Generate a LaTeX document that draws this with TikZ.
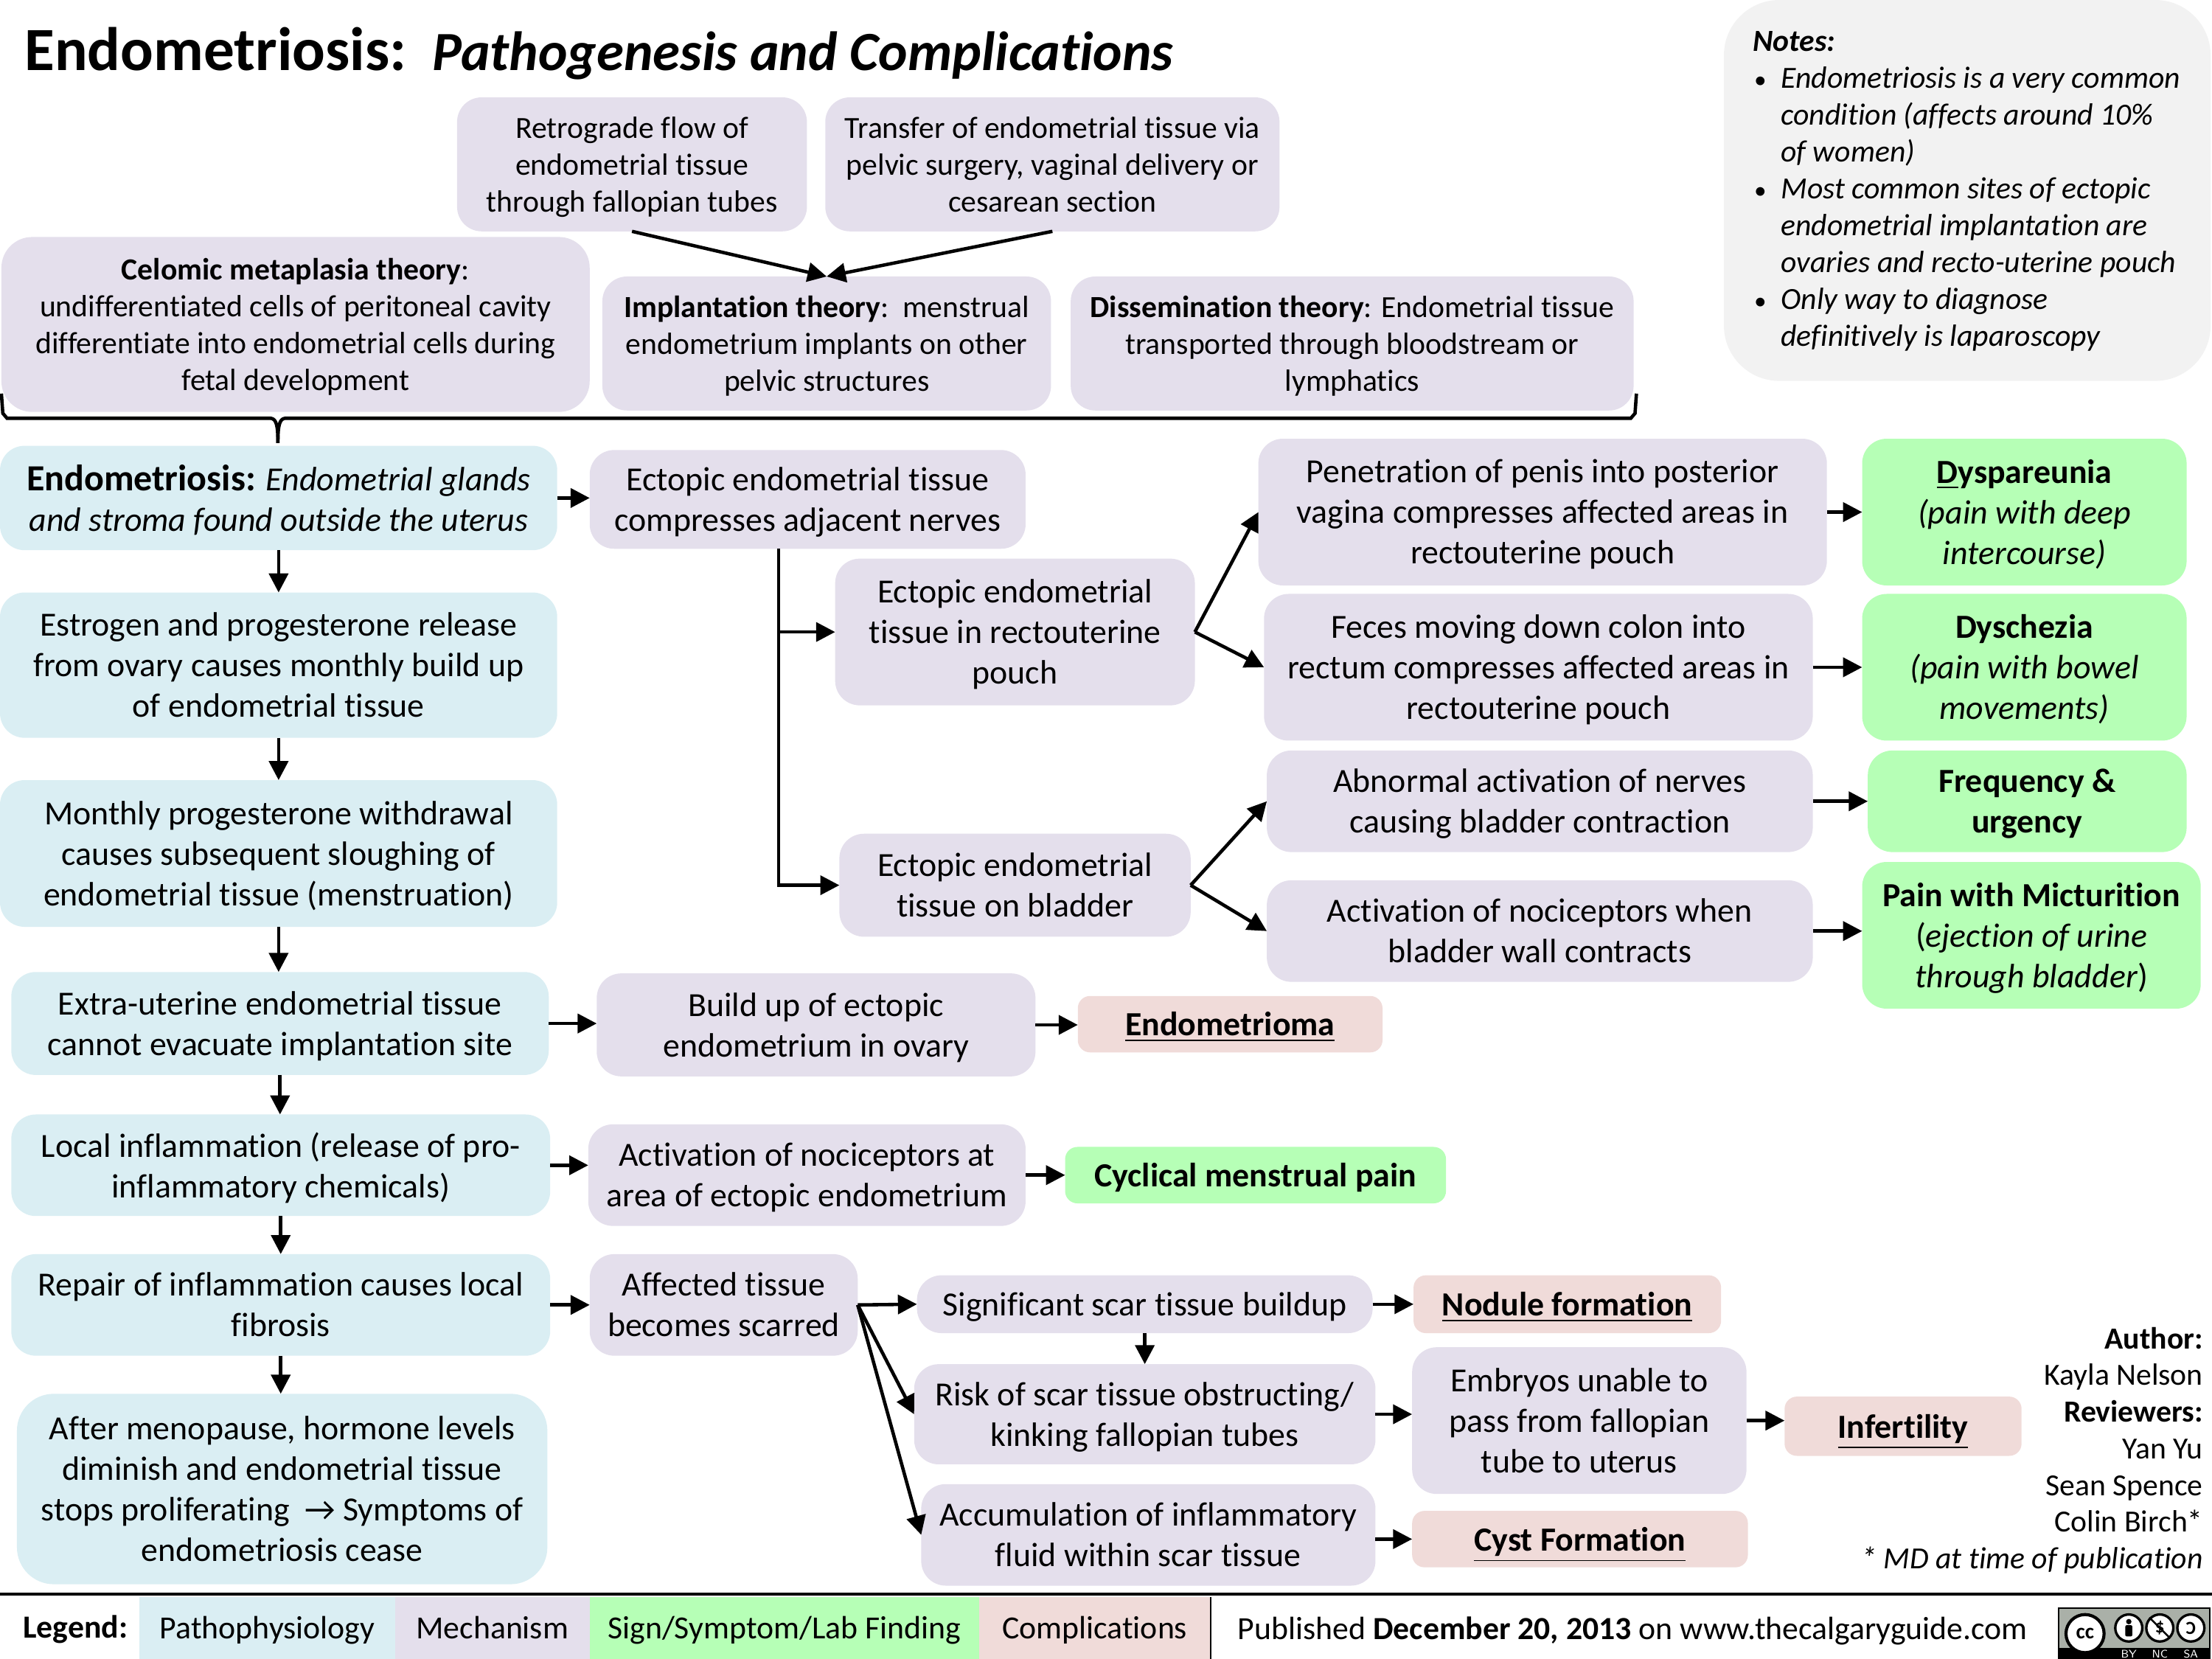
\documentclass[tikz,border=0pt]{standalone}
\usepackage{fontspec}
\setmainfont{Carlito}[Ligatures = NoCommon]
\usetikzlibrary{positioning, calc, shapes.geometric, arrows.meta}
\definecolor{mechcol}{HTML}{E4DFEC}
\definecolor{pathocol}{HTML}{DAEEF3}
\definecolor{signcol}{HTML}{B6FFB6}
\definecolor{compcol}{HTML}{F0DBD9}
\definecolor{notecol}{HTML}{F2F2F2}
\definecolor{badgecol}{HTML}{AAB0A8}
\tikzstyle{Arrow} = [
%Create custom arrow style:
line width = 1.1pt,
-{Triangle[length = 6.2pt, width = 6.2pt]}
]
\tikzset{
size/.style 2 args = {minimum width = #1*0.45918pt, minimum height = #2*0.45918pt},
box/.style = {rectangle, rounded corners = 8pt, align = center, inner sep = 0pt, outer sep = 0pt, font = \fontsize{11}{13.2}\selectfont,
execute at begin node = {\rule{0pt}{0.88em}}, execute at end node = {\rule[-0.185em]{0pt}{0pt}}},
multi/.style = {text height = \ht\pgfnodeparttextbox+1.84pt},
small/.style = {font = \fontsize{10}{12}\selectfont},
mech/.style = {box, multi, fill = mechcol},
patho/.style = {box, multi, fill = pathocol},
sign/.style = {box, multi, fill = signcol},
comp/.style = {box, text depth = 2.04pt, fill = compcol},
legendbox/.style = {rectangle, inner sep = 0pt, outer sep = 0pt, text height = 8pt, text depth = 1pt, font = \fontsize{10.5}{13.2}\selectfont},
credit/.style = {anchor = base east, inner sep = 0pt, font = \fontsize{10}{12}\selectfont},
badgering/.style = {circle, draw = black, fill = white, line width = 0.8pt, inner sep = 0pt, minimum size = 4.4*2pt}
}
\begin{document}
\begin{tikzpicture}[x = 0.45918pt, y = -0.45918pt]
\useasboundingbox (0,0) rectangle (1568,1176);

% title
\node[anchor = base west, inner sep = 0pt, font = \fontsize{20}{24}\selectfont\bfseries] (title) at (17,50) {Endometriosis:};
\node[anchor = base west, inner sep = 0pt, font = \fontsize{18}{22}\selectfont\bfseries\itshape] (subtitle) at (306,50) {Pathogenesis and Complications};

% notes
\node[box, fill = notecol, rounded corners = 18pt, size = {345}{270}] (notes) at (1394.5,135) {};
\node[anchor = north west, inner sep = 0pt, align = left, font = \fontsize{10}{12}\selectfont\itshape] (notetext) at (1242,22) {\textbf{Notes:}\\
\makebox[9.2pt][l]{\hspace*{0.5pt}\upshape\fontsize{8}{8}\selectfont•}Endometriosis is a very common\\
\hspace*{9.2pt}condition (affects around 10\%\\
\hspace*{9.2pt}of women)\\
\makebox[9.2pt][l]{\hspace*{0.5pt}\upshape\fontsize{8}{8}\selectfont•}Most common sites of ectopic\\
\hspace*{9.2pt}endometrial implantation are\\
\hspace*{9.2pt}ovaries and recto-uterine pouch\\
\makebox[9.2pt][l]{\hspace*{0.5pt}\upshape\fontsize{8}{8}\selectfont•}Only way to diagnose\\
\hspace*{9.2pt}definitively is laparoscopy};

% theories
\node[mech, small, size = {248}{95}] (retro) at (448,116.5) {Retrograde flow of\\endometrial tissue\\through fallopian tubes};
\node[mech, small, size = {322}{95}] (transfer) at (746,116.5) {Transfer of endometrial tissue via\\pelvic surgery, vaginal delivery or\\cesarean section};
\node[mech, small, rounded corners = 10pt, size = {417}{124}] (celomic) at (209.5,230) {\textbf{Celomic metaplasia theory}:\\undifferentiated cells of peritoneal cavity\\differentiate into endometrial cells during\\fetal development};
\node[mech, small, size = {318}{95}] (implant) at (586,243.5) {\textbf{Implantation theory}:\ \ menstrual\\endometrium implants on other\\pelvic structures};
\node[mech, small, size = {399}{95}] (dissem) at (958.5,243.5) {\textbf{Dissemination theory}: Endometrial tissue\\transported through bloodstream or\\lymphatics};

\draw[Arrow] (retro.south) -- (implant.north);
\draw[Arrow] (transfer.south) -- (implant.north);

% brace
\coordinate (braceL) at (1,279);
\coordinate (braceR) at (1160,279);
\coordinate (braceT) at (197,314);
\draw[line width = 1.1pt] (braceL) -- (2,293) -- (5,296.5) -- (192,296.5) .. controls (196,297) and (197,302) .. (braceT);
\draw[line width = 1.1pt] (braceR) -- (1159,293) -- (1156,296.5) -- (202,296.5) .. controls (198,297) and (197,302) .. (braceT);

% left column
\node[patho, size = {395}{74}] (endo) at (197.5,353) {{\fontsize{12}{13.2}\selectfont\textbf{Endometriosis:}} \textit{Endometrial glands}\\\textit{and stroma found outside the uterus}};
\node[patho, size = {395}{103}] (estrogen) at (197.5,471.5) {Estrogen and progesterone release\\from ovary causes monthly build up\\of endometrial tissue};
\node[patho, size = {395}{104}] (monthly) at (197.5,605) {Monthly progesterone withdrawal\\causes subsequent sloughing of\\endometrial tissue (menstruation)};
\node[patho, size = {381}{73}] (extra) at (198.5,725.5) {Extra-uterine endometrial tissue\\cannot evacuate implantation site};
\node[patho, size = {382}{72}] (local) at (199,826) {Local inflammation (release of pro-\\inflammatory chemicals)};
\node[patho, size = {382}{72}] (repair) at (199,925) {Repair of inflammation causes local\\fibrosis};
\node[patho, rounded corners = 12pt, size = {376}{135}] (after) at (200,1055.5) {After menopause, hormone levels\\diminish and endometrial tissue\\stops proliferating\ \ →\ Symptoms of\\endometriosis cease};

\draw[Arrow] (endo.south) -- (estrogen.north);
\draw[Arrow] (estrogen.south) -- (monthly.north);
\draw[Arrow] (monthly.south) -- (monthly.south |- extra.north);
\draw[Arrow] (extra.south) -- (extra.south |- local.north);
\draw[Arrow] (local.south) -- (repair.north);
\draw[Arrow] (repair.south) -- (repair.south |- after.north);

% mechanisms
\node[mech, size = {309}{70}] (ectopic) at (572.5,354) {Ectopic endometrial tissue\\compresses adjacent nerves};
\node[mech, size = {255}{104}] (rectout) at (719.5,448) {Ectopic endometrial\\tissue in rectouterine\\pouch};
\node[mech, size = {249}{73}] (bladder) at (719.5,627.5) {Ectopic endometrial\\tissue on bladder};
\node[mech, size = {403}{104}] (penet) at (1093.5,363) {Penetration of penis into posterior\\vagina compresses affected areas in\\rectouterine pouch};
\node[mech, size = {389}{104}] (feces) at (1090.5,473) {Feces moving down colon into\\rectum compresses affected areas in\\rectouterine pouch};
\node[mech, size = {387}{72}] (abnormal) at (1091.5,568) {Abnormal activation of nerves\\causing bladder contraction};
\node[mech, size = {387}{72}] (nocic) at (1091.5,660) {Activation of nociceptors when\\bladder wall contracts};
\node[mech, size = {311}{73}] (buildup) at (578.5,726.5) {Build up of ectopic\\endometrium in ovary};
\node[mech, size = {310}{72}] (activ) at (572,833) {Activation of nociceptors at\\area of ectopic endometrium};
\node[mech, size = {190}{72}] (scar) at (513,925) {Affected tissue\\becomes scarred};
\node[box, fill = mechcol, size = {323}{41}] (signif) at (811.5,924.5) {Significant scar tissue buildup};
\node[mech, size = {327}{71}] (risk) at (811.5,1002.5) {Risk of scar tissue obstructing/\\kinking fallopian tubes};
\node[mech, size = {322}{72}] (accum) at (814,1088) {Accumulation of inflammatory\\fluid within scar tissue};
\node[mech, size = {237}{104}] (embryo) at (1119.5,1007) {Embryos unable to\\pass from fallopian\\tube to uterus};

% signs and symptoms
\node[sign, size = {230}{104}] (dysp) at (1435,363) {\textbf{\underline{D}yspareunia}\\\textit{(pain with deep}\\\textit{intercourse)}};
\node[sign, size = {230}{104}] (dysch) at (1435,473) {\textbf{Dyschezia}\\\textit{(pain with bowel}\\\textit{movements)}};
\node[sign, size = {226}{72}] (freq) at (1437,568) {\textbf{Frequency \&}\\\textbf{urgency}};
\node[sign, size = {240}{104}] (micturition) at (1440,663) {\textbf{Pain with Micturition}\\(\textit{ejection of urine}\\\textit{through bladder})};
\node[box, fill = signcol, rounded corners = 4pt, size = {270}{40}] (cyclic) at (890,833) {\textbf{Cyclical menstrual pain}};

% complications
\node[comp, rounded corners = 4pt, size = {216}{40}] (endomet) at (872,726) {\textbf{\underline{Endometrioma}}};
\node[comp, rounded corners = 4pt, size = {218}{41}] (nodule) at (1111,924.5) {\textbf{\underline{Nodule formation}}};
\node[comp, rounded corners = 4pt, size = {168}{42}] (infert) at (1349,1011) {\textbf{\underline{Infertility}}};
\node[comp, rounded corners = 4pt, size = {238}{40}] (cyst) at (1120,1091) {\textbf{\underline{Cyst Formation}}};

% arrows to the right
\coordinate (trunktop) at (552,389);
\draw[Arrow] (endo.east) -- (endo.east -| ectopic.west);
\draw[Arrow] (trunktop) |- (bladder.west);
\draw[Arrow] (trunktop |- rectout.west) -- (rectout.west);
\draw[Arrow] (rectout.east) -- (penet.west);
\draw[Arrow] (rectout.east) -- (feces.west);
\draw[Arrow] (bladder.east) -- (abnormal.west);
\draw[Arrow] (bladder.east) -- (nocic.west);
\draw[Arrow] (penet.east) -- (dysp.west);
\draw[Arrow] (feces.east) -- (dysch.west);
\draw[Arrow] (abnormal.east) -- (freq.west);
\draw[Arrow] (nocic.east) -- (nocic.east -| micturition.west);
\draw[Arrow] (extra.east) -- (extra.east -| buildup.west);
\draw[Arrow] (buildup.east) -- (buildup.east -| endomet.west);
\draw[Arrow] (local.east) -- (local.east -| activ.west);
\draw[Arrow] (activ.east) -- (cyclic.west);
\draw[Arrow] (repair.east) -- (scar.west);
\draw[Arrow] (scar.east) -- (signif.west);
\draw[Arrow] (scar.east) -- (risk.west);
\draw[Arrow] (scar.east) -- (accum.west);
\draw[Arrow] (signif.south) -- (risk.north);
\draw[Arrow] (signif.east) -- (nodule.west);
\draw[Arrow] (risk.east) -- (risk.east -| embryo.west);
\draw[Arrow] (cyst.west -| accum.east) -- (cyst.west);
\draw[Arrow] (embryo.east) -- (embryo.east -| infert.west);

% credits
\node[credit] (author) at (1562,956) {\textbf{Author:}};
\node[credit] (kayla) at (1562,982) {Kayla Nelson};
\node[credit] (reviewers) at (1562,1008) {\textbf{Reviewers:}};
\node[credit] (yan) at (1562,1034) {Yan Yu};
\node[credit] (sean) at (1562,1060) {Sean Spence};
\node[credit] (colin) at (1562,1086) {Colin Birch*};
\node[credit] (publication) at (1562,1112) {\textit{* MD at time of publication}};

% legend
\node[legendbox, fill = pathocol, size = {181}{44}] (lpatho) at (189.5,1154) {Pathophysiology};
\node[legendbox, fill = mechcol, size = {138}{44}] (lmech) at (349,1154) {Mechanism};
\node[legendbox, fill = signcol, size = {276}{44}] (lsign) at (556,1154) {Sign/Symptom/Lab Finding};
\node[legendbox, fill = compcol, size = {164}{44}] (lcomp) at (776,1154) {Complications};
\node[anchor = west, inner sep = 0pt, font = \fontsize{10.5}{13.2}\selectfont\bfseries] (legend) at (16,1155) {Legend:};
\node[anchor = west, inner sep = 0pt, font = \fontsize{10.5}{13.2}\selectfont] (published) at (877,1156) {Published \textbf{December 20, 2013} on www.thecalgaryguide.com};
\coordinate (ruleL) at (0,1130);
\coordinate (ruleR) at (1568,1130);
\draw[line width = 1.1pt] (ruleL) -- (ruleR);
\draw[line width = 0.5pt] (lcomp.north east) -- (lcomp.south east);

% licence badge
\node[rectangle, draw = black, fill = badgecol, line width = 0.5pt, inner sep = 0pt, size = {107}{36}] (badge) at (1513,1158) {};
\node[rectangle, fill = black, inner sep = 0pt, size = {107}{8}] (badgeband) at (1513,1172) {};
\node[circle, draw = black, fill = white, line width = 1pt, inner sep = 0pt, minimum size = 12.4pt, font = \fontsize{7}{7}\selectfont\bfseries] (cc) at (1478,1158) {cc};
\node[badgering] (by) at (1509,1154) {};
\node[badgering, font = \fontsize{6}{6}\selectfont\bfseries] (nc) at (1531,1154) {\$};
\node[badgering, font = \fontsize{6}{6}\selectfont\bfseries] (sa) at (1553,1154) {\reflectbox{C}};
\fill (1509,1149.5) circle (1.9);
\fill[rounded corners = 0.5pt] (1506.5,1152) rectangle (1511.5,1160);
\draw[line width = 0.6pt] (nc.north west) -- (nc.south east);
\node[inner sep = 0pt, text = white, font = \fontsize{3.6}{4}\selectfont\sffamily] (bytext) at (1509,1172.5) {BY};
\node[inner sep = 0pt, text = white, font = \fontsize{3.6}{4}\selectfont\sffamily] (nctext) at (1531,1172.5) {NC};
\node[inner sep = 0pt, text = white, font = \fontsize{3.6}{4}\selectfont\sffamily] (satext) at (1553,1172.5) {SA};
\end{tikzpicture}
\end{document}
